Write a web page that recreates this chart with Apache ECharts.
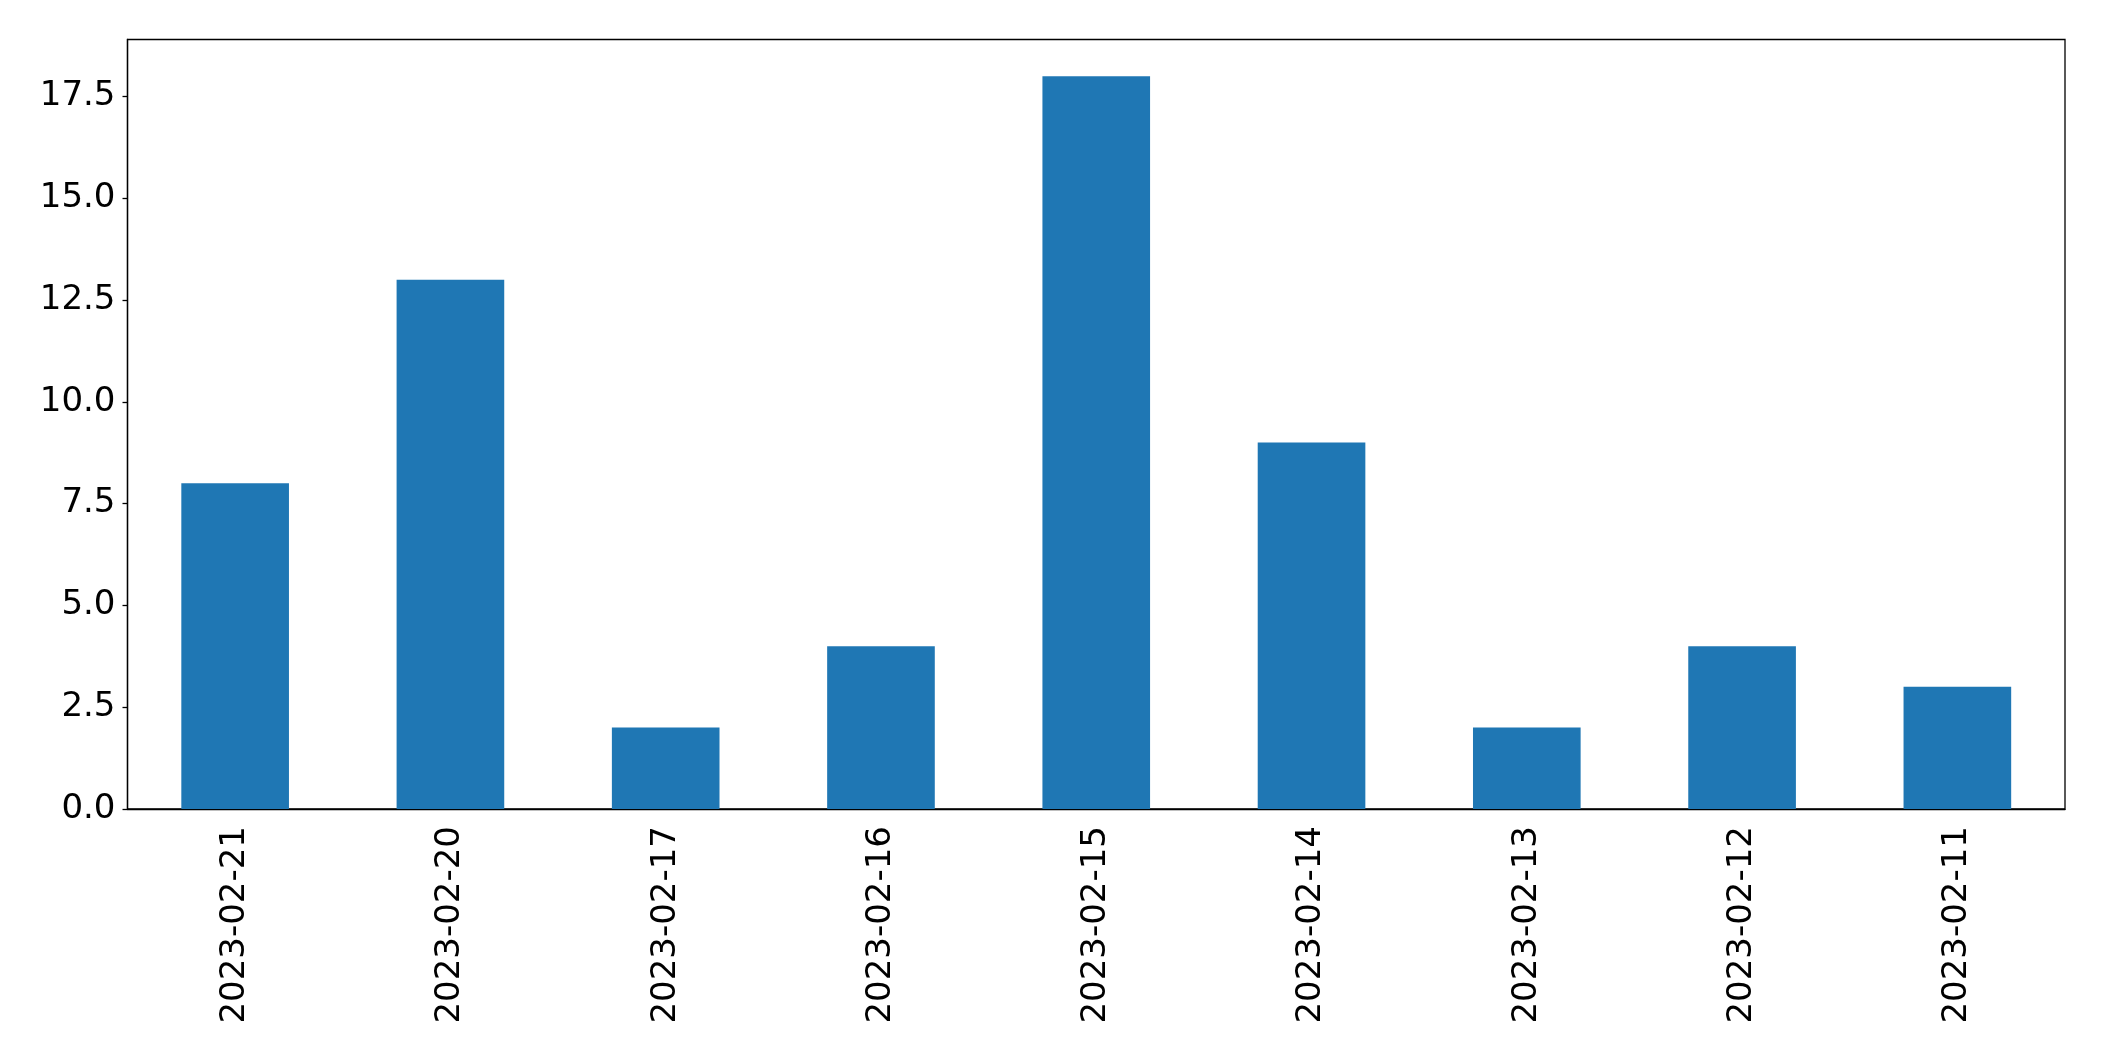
<!DOCTYPE html>
<html>
<head>
<meta charset="utf-8">
<script src="https://cdn.jsdelivr.net/npm/echarts@6/dist/echarts.min.js"></script>
<style>html,body{margin:0;padding:0;background:#fff}#c{width:2104px;height:1061px}</style>
</head>
<body>
<div id="c"></div>
<script>
const categories = ['2023-02-21','2023-02-20','2023-02-17','2023-02-16','2023-02-15','2023-02-14','2023-02-13','2023-02-12','2023-02-11'];
const values = [8, 13, 2, 4, 18, 9, 2, 4, 3];
const yTicks = [0, 2.5, 5, 7.5, 10, 12.5, 15, 17.5];
const yMax = 18.9;

const chart = echarts.init(document.getElementById('c'), null, {renderer: 'canvas'});
const font = 'DejaVu Sans';
chart.setOption({
  animation: false,
  backgroundColor: '#ffffff',
  grid: {left: 127.5, right: 39, top: 39.5, bottom: 252, show: true, borderColor: '#000', borderWidth: 1.3, backgroundColor: 'transparent'},
  xAxis: {
    type: 'category', data: categories,
    axisLine: {lineStyle: {color: '#000', width: 1.3}},
    axisTick: {alignWithLabel: true, length: 5, lineStyle: {color: '#000', width: 1.3}},
    axisLabel: {rotate: 90, color: '#000', fontFamily: font, fontSize: 34, margin: 17, interval: 0}
  },
  yAxis: {
    type: 'value', min: 0, max: yMax,
    splitLine: {show: false},
    axisLine: {show: true, lineStyle: {color: '#000', width: 1.3}},
    axisTick: {show: true, length: 5, customValues: yTicks, lineStyle: {color: '#000', width: 1.3}},
    axisLabel: {color: '#000', fontFamily: font, fontSize: 34, margin: 12, customValues: yTicks,
      formatter: v => v.toFixed(1)}
  },
  series: [{
    type: 'bar', data: values, barCategoryGap: '50%',
    itemStyle: {color: '#1f77b4'}
  }]
});
</script>
</body>
</html>
